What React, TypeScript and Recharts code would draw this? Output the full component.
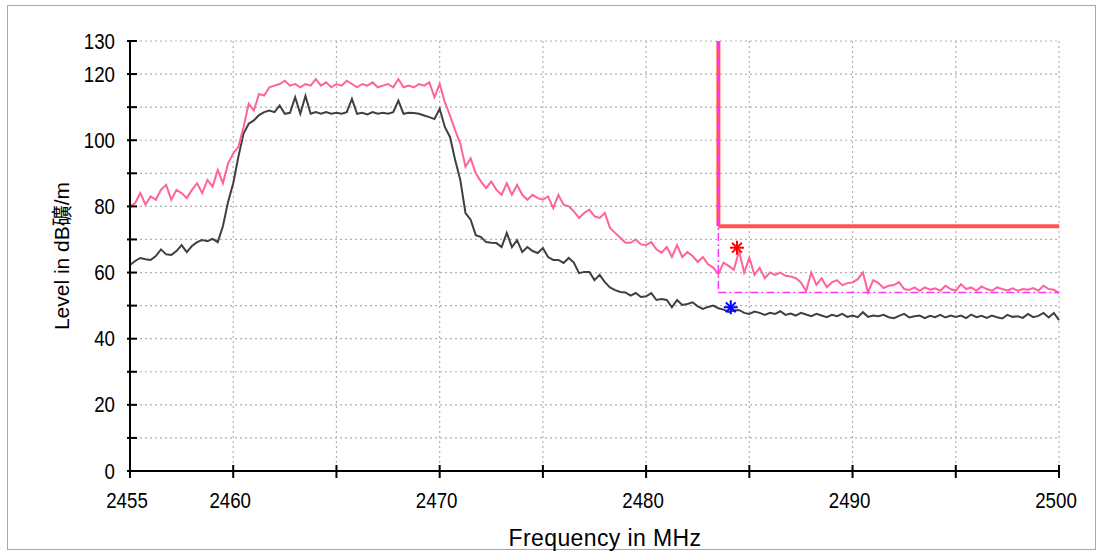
import React from 'react';
import { ComposedChart, Line, XAxis, YAxis, CartesianGrid, ReferenceLine, Scatter } from 'recharts';

// Sweep: 2455 .. 2500 MHz, 0.25 MHz steps
const START_MHZ = 2455;
const STEP_MHZ = 0.25;

// Peak trace (pink), dBµV/m
const peakValues = [
  80, 81, 84, 80.5, 83, 82, 85, 86.5, 82, 85, 84, 82.5, 85, 87, 84, 88, 86, 91, 87, 93,
  96, 98, 104, 111, 109, 114, 113.5, 116, 116.5, 117, 118, 116.5, 117, 116, 117, 116.5, 118.5, 116.5, 117.5, 116,
  117, 116.5, 118, 117, 116, 117, 116.5, 117.5, 116, 116.5, 117, 116, 118.5, 116, 116.5, 116, 117, 116.5, 117.5, 113,
  117, 111.5, 107.5, 103, 99, 92, 94.5, 90, 87.5, 85.5, 87.5, 85, 83.5, 87, 83.5, 86.5, 83.5, 82, 83.5, 82.5,
  82, 83, 79.5, 83.5, 80.5, 80, 78.5, 76.5, 78, 79, 77, 76.5, 78, 73.5, 72, 70.5, 69, 69, 70, 68.5,
  68.3, 69.2, 67, 66, 67.7, 64.7, 68.3, 64.7, 66.2, 65, 63.2, 64.7, 62.5, 61.5, 59.5, 63, 62, 60.8, 66.5, 60,
  64.5, 59.3, 61.4, 58.3, 60, 59.3, 60, 59, 58.8, 58.3, 57, 54.4, 60, 56.3, 58.3, 55.6, 57, 57.7, 56.2, 56.8,
  57, 58, 60, 54, 57.7, 56.8, 55.3, 56, 56.2, 57.1, 55, 54.7, 55.5, 54.5, 55.5, 54.8, 55.2, 54.5, 56, 55,
  54.5, 56.5, 55, 55.5, 54.5, 55.8, 55, 54.5, 55.5, 55, 54.6, 55.2, 54.5, 55, 54.8, 55.3, 54.5, 56, 55, 54.8,
  53.8,
];

// Average trace (dark grey), dBµV/m
const avgValues = [
  62.3, 63.5, 64.4, 64, 63.8, 65, 67, 65.5, 65.3, 66.5, 68.3, 66.2, 68, 69.2, 69.8, 69.5, 70.2, 69.2, 74, 81.3,
  87, 95, 102, 105, 106, 107.6, 108.5, 109, 108.5, 110.5, 108, 108.3, 113, 108, 113.4, 108, 108.5, 108, 108.5, 108,
  108.3, 108, 108.5, 112.5, 108, 108.3, 107.8, 108.5, 108, 108.3, 108, 108.5, 112, 108, 108.3, 108.2, 108, 107.5, 107, 106.4,
  109.5, 104, 101, 94, 88, 78, 76, 71.3, 70.7, 69.2, 69, 68.9, 67.7, 72, 67.7, 69.8, 66.2, 67.7, 66.5, 65.9,
  67.4, 64.7, 63.8, 63.8, 62.9, 64.4, 63, 59.8, 60.2, 60.2, 57.7, 59.3, 57.1, 55.5, 54.7, 54.1, 54, 53, 53.8, 52.6,
  52.8, 53.8, 51.7, 52, 51.7, 49.5, 51.7, 50.2, 50.5, 51, 49.8, 49, 49.6, 50, 49.2, 48.8, 48.1, 48.5, 48.7, 47.8,
  47.5, 48.2, 47.8, 47.2, 47.8, 47.5, 48.3, 47.2, 47.6, 47, 47.8, 47.3, 46.8, 47.5, 47, 46.5, 47.2, 46.8, 47.5, 46.6,
  47, 46.5, 48, 46.6, 47, 46.8, 47.2, 46.5, 46.2, 46.9, 47.5, 46.4, 46.8, 47, 46.2, 46.9, 46.5, 47.2, 46.4, 47,
  46.6, 47, 46.2, 47.3, 46.5, 46.9, 46.3, 47, 46.5, 46.1, 47.2, 46.6, 46.8, 46.3, 47.5, 46.5, 46.9, 47.8, 46.4, 47.8,
  45.6,
];

// Limits
const limitFreq = 2483.5;
const limitTop = 130;
const peakLimit = 74;
const avgLimit = 54;
const xEnd = 2500;

// Markers
const peakMarker = [{ f: 2484.4, v: 67.5 }];
const avgMarker = [{ f: 2484.1, v: 49.5 }];

// Axes
const xTicks = [2455, 2460, 2465, 2470, 2475, 2480, 2485, 2490, 2495, 2500];
const xLabeled = [2455, 2460, 2470, 2480, 2490, 2500];
const yTicks = [0, 10, 20, 30, 40, 50, 60, 70, 80, 90, 100, 110, 120, 130];
const yLabeled = [0, 20, 40, 60, 80, 100, 120, 130];

const data = peakValues.map((p, i) => ({
  f: START_MHZ + i * STEP_MHZ,
  peak: p,
  avg: avgValues[i],
}));

const TICK_FONT = "'Liberation Sans', Arial, sans-serif";

const YTick = (props: any) => {
  const { x, y, payload } = props;
  const v = payload.value;
  return (
    <g>
      <line x1={x - 3} x2={x + 7} y1={y} y2={y} stroke="#000" strokeWidth={2} />
      {yLabeled.includes(v) && (
        <text
          transform={`translate(${x - 15},${y}) scale(0.85,1)`}
          x={0}
          y={0}
          textAnchor="end"
          dominantBaseline="central"
          fontSize={22}
          fill="#000"
          fontFamily={TICK_FONT}
        >
          {v}
        </text>
      )}
    </g>
  );
};

const XTick = (props: any) => {
  const { x, y, payload } = props;
  const v = payload.value;
  return (
    <g>
      <line x1={x} x2={x} y1={y - 6} y2={y + 7} stroke="#000" strokeWidth={2} />
      {xLabeled.includes(v) && (
        <text
          transform={`translate(${x - 3},${y + 29}) scale(0.85,1)`}
          x={0}
          y={0}
          textAnchor="middle"
          dominantBaseline="central"
          fontSize={22}
          fill="#000"
          fontFamily={TICK_FONT}
        >
          {v}
        </text>
      )}
    </g>
  );
};

const Asterisk = (color: string) => (props: any) => {
  const { cx, cy } = props;
  const r = 7;
  const d = r * 0.7;
  return (
    <g stroke={color} strokeWidth={2}>
      <line x1={cx} y1={cy - r} x2={cx} y2={cy + r} />
      <line x1={cx - r} y1={cy} x2={cx + r} y2={cy} />
      <line x1={cx - d} y1={cy - d} x2={cx + d} y2={cy + d} />
      <line x1={cx - d} y1={cy + d} x2={cx + d} y2={cy - d} />
    </g>
  );
};

export default function App() {
  return (
    <div style={{ position: 'absolute', left: 0, top: 0, width: 1101, height: 553, background: '#fff', overflow: 'hidden' }}>
      <div style={{ position: 'absolute', left: 7, top: 5, width: 1089, height: 545, border: '1px solid #a8a8a8', boxSizing: 'border-box' }} />
      <div style={{ position: 'absolute', left: 0, top: 0 }}>
        <ComposedChart width={1101} height={553} data={data} margin={{ top: 41, right: 42, left: 70, bottom: 42 }}>
          <CartesianGrid stroke="#b0b0b0" strokeDasharray="2 3" strokeWidth={1.2} />
          <XAxis
            dataKey="f"
            type="number"
            domain={[2455, 2500]}
            ticks={xTicks}
            interval={0}
            height={40}
            tickSize={0}
            tickMargin={0}
            tickLine={false}
            axisLine={{ stroke: '#000', strokeWidth: 2 }}
            tick={<XTick />}
          />
          <YAxis
            type="number"
            domain={[0, 130]}
            ticks={yTicks}
            interval={0}
            width={60}
            tickSize={0}
            tickMargin={0}
            tickLine={false}
            axisLine={{ stroke: '#000', strokeWidth: 2 }}
            tick={<YTick />}
          />
          <ReferenceLine segment={[{ x: limitFreq, y: limitTop }, { x: limitFreq, y: peakLimit }]} stroke="#ff5454" strokeWidth={4} />
          <ReferenceLine segment={[{ x: limitFreq, y: peakLimit }, { x: xEnd, y: peakLimit }]} stroke="#ff5454" strokeWidth={4} />
          <Line dataKey="avg" type="linear" stroke="#404040" strokeWidth={2} dot={false} isAnimationActive={false} />
          <Line dataKey="peak" type="linear" stroke="#ff6495" strokeWidth={2} dot={false} isAnimationActive={false} />
          <ReferenceLine segment={[{ x: limitFreq, y: limitTop }, { x: limitFreq, y: avgLimit }]} stroke="#ff33ff" strokeWidth={1.5} strokeDasharray="8 3 2 3" />
          <ReferenceLine segment={[{ x: limitFreq, y: avgLimit }, { x: xEnd, y: avgLimit }]} stroke="#ff33ff" strokeWidth={1.5} strokeDasharray="8 3 2 3" />
          <Scatter data={peakMarker} dataKey="v" shape={Asterisk('#ff0000')} isAnimationActive={false} />
          <Scatter data={avgMarker} dataKey="v" shape={Asterisk('#0000ff')} isAnimationActive={false} />
        </ComposedChart>
      </div>
      <div
        style={{
          position: 'absolute',
          left: 60,
          top: 256,
          transform: 'translate(-50%, -50%) rotate(-90deg)',
          whiteSpace: 'nowrap',
          fontSize: 21,
          fontFamily: "'Liberation Sans', Arial, 'Noto Sans CJK KR', sans-serif",
          color: '#000',
        }}
      >
        Level in dB礦/m
      </div>
      <div
        style={{
          position: 'absolute',
          left: 605,
          top: 538,
          transform: 'translate(-50%, -50%)',
          whiteSpace: 'nowrap',
          fontSize: 23,
          letterSpacing: 0.4,
          fontFamily: "'Liberation Sans', Arial, sans-serif",
          color: '#000',
        }}
      >
        Frequency in MHz
      </div>
    </div>
  );
}
